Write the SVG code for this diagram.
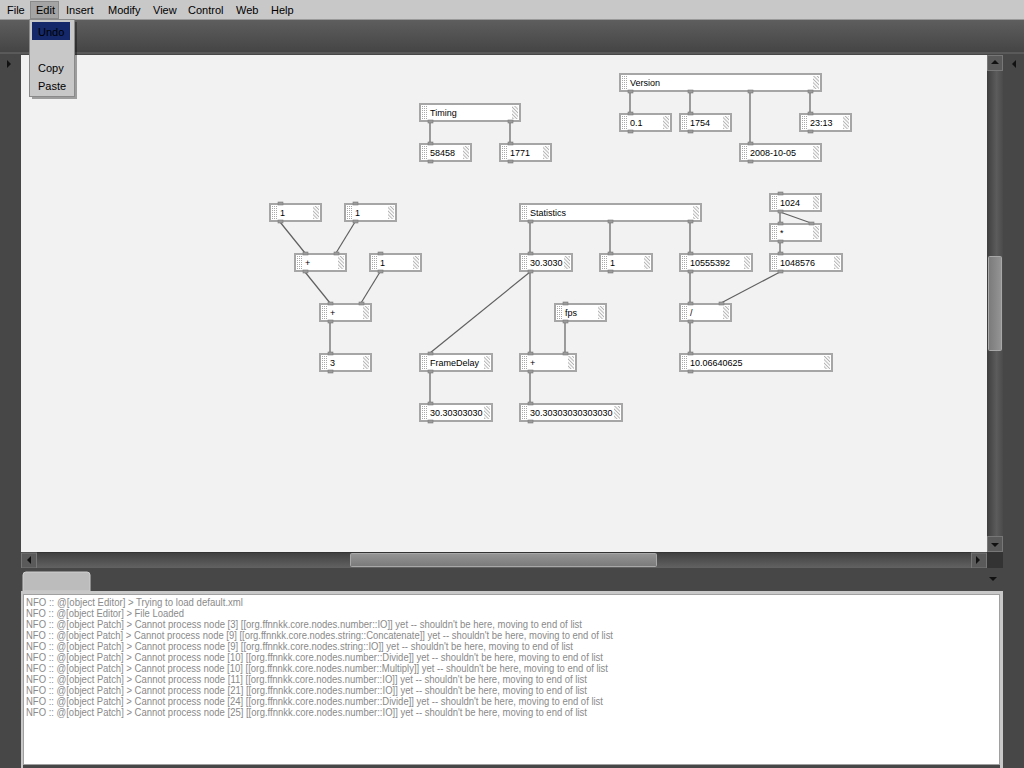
<svg xmlns="http://www.w3.org/2000/svg" width="1024" height="768" viewBox="0 0 1024 768">
<defs>
<pattern id="dots" width="2" height="2" patternUnits="userSpaceOnUse"><rect width="1" height="1" fill="#a8a8a8"/></pattern>
<pattern id="hatch" width="2.5" height="2.5" patternUnits="userSpaceOnUse" patternTransform="rotate(-45)"><rect width="1" height="2.5" fill="#b4b4b4"/></pattern>
<linearGradient id="tb" x1="0" y1="0" x2="0" y2="1"><stop offset="0" stop-color="#5e5e5e"/><stop offset="1" stop-color="#444"/></linearGradient>
<linearGradient id="vtrack" x1="0" y1="0" x2="1" y2="0"><stop offset="0" stop-color="#3e3e3e"/><stop offset="0.6" stop-color="#5c5c5c"/><stop offset="1" stop-color="#4a4a4a"/></linearGradient>
<linearGradient id="htrack" x1="0" y1="0" x2="0" y2="1"><stop offset="0" stop-color="#3e3e3e"/><stop offset="1" stop-color="#626262"/></linearGradient>
<linearGradient id="vthumb" x1="0" y1="0" x2="1" y2="0"><stop offset="0" stop-color="#7a7a7a"/><stop offset="1" stop-color="#959595"/></linearGradient>
<linearGradient id="hthumb" x1="0" y1="0" x2="0" y2="1"><stop offset="0" stop-color="#959595"/><stop offset="1" stop-color="#7a7a7a"/></linearGradient>
</defs>
<style>
.menu{font-family:"Liberation Sans",Arial,sans-serif;font-size:11px;fill:#000}
.box{fill:#fff;stroke:#a6a6a6;stroke-width:2}
.grip{fill:url(#dots)}
.hatch{fill:url(#hatch)}
.lbl{font-family:"Liberation Sans",Arial,sans-serif;font-size:9px;fill:#000}
.port{fill:#9a9a9a;stroke:#7a7a7a;stroke-width:0.6}
.wire{stroke:#606060;stroke-width:1.2;fill:none}
.log{font-family:"Liberation Sans",Arial,sans-serif;font-size:10px;fill:#8a8a8a}
.btn{fill:#5a5a5a;stroke:#777;stroke-width:1}
.tri{fill:#111}
</style>

<!-- window chrome -->
<rect x="0" y="0" width="1024" height="768" fill="#474747"/>
<rect x="0" y="20" width="1024" height="33" fill="url(#tb)"/>
<line x1="0" y1="53" x2="1024" y2="53" stroke="#6e6e6e" stroke-width="1"/>
<rect x="0" y="0" width="1024" height="20" fill="#c8c8c8"/>
<line x1="0" y1="19.5" x2="1024" y2="19.5" stroke="#9a9a9a"/>

<!-- canvas -->
<rect x="21" y="55" width="966" height="497" fill="#f2f2f2"/>
<polygon class="tri" points="7,60 11,64 7,68"/>
<polygon class="tri" points="1016,60 1012,64 1016,68"/>

<!-- vertical scrollbar -->
<rect x="987" y="55" width="16" height="497" fill="url(#vtrack)"/>
<rect class="btn" x="987.5" y="55.5" width="15" height="15"/>
<polygon class="tri" points="991,64 995,60 999,64"/>
<rect x="988.5" y="256.5" width="13" height="94" rx="1" fill="url(#vthumb)" stroke="#a8a8a8"/>
<rect class="btn" x="987.5" y="536.5" width="15" height="15"/>
<polygon class="tri" points="991,543 999,543 995,547"/>

<!-- horizontal scrollbar -->
<rect x="21" y="552" width="966" height="16" fill="url(#htrack)"/>
<line x1="21" y1="552.5" x2="1003" y2="552.5" stroke="#333"/>
<rect class="btn" x="21.5" y="553" width="15" height="15"/>
<polygon class="tri" points="31,556 27,560 31,564"/>
<rect x="350.5" y="553.5" width="306" height="13" rx="1" fill="url(#hthumb)" stroke="#a8a8a8"/>
<rect class="btn" x="971.5" y="553" width="15" height="15"/>
<polygon class="tri" points="976,556 980,560 976,564"/>
<rect x="987" y="552" width="16" height="16" fill="#333"/>

<!-- bottom panel -->
<rect x="21" y="568" width="982" height="23" fill="#474747"/>
<path d="M23,591 V575 Q23,572 26,572 H87 Q90,572 90,575 V591 Z" fill="#bcbcbc" stroke="#cfcfcf" stroke-width="1"/>
<polygon class="tri" points="989,577 997,577 993,581"/>
<rect x="21" y="591" width="982" height="3" fill="#c8c8c8"/>
<rect x="23.5" y="594.5" width="976" height="170" fill="#fff" stroke="#a0a0a0"/>
<rect x="21" y="594" width="2" height="174" fill="#c8c8c8"/>
<rect x="1000" y="594" width="3" height="174" fill="#c8c8c8"/>

<g id="log">
<text class="log" x="26" y="606" textLength="217" lengthAdjust="spacingAndGlyphs">NFO :: @[object Editor] &gt; Trying to load default.xml</text>
<text class="log" x="26" y="617" textLength="158" lengthAdjust="spacingAndGlyphs">NFO :: @[object Editor] &gt; File Loaded</text>
<text class="log" x="26" y="628" textLength="556" lengthAdjust="spacingAndGlyphs">NFO :: @[object Patch] &gt; Cannot process node [3] [[org.ffnnkk.core.nodes.number::IO]] yet -- shouldn't be here, moving to end of list</text>
<text class="log" x="26" y="639" textLength="587" lengthAdjust="spacingAndGlyphs">NFO :: @[object Patch] &gt; Cannot process node [9] [[org.ffnnkk.core.nodes.string::Concatenate]] yet -- shouldn't be here, moving to end of list</text>
<text class="log" x="26" y="650" textLength="547" lengthAdjust="spacingAndGlyphs">NFO :: @[object Patch] &gt; Cannot process node [9] [[org.ffnnkk.core.nodes.string::IO]] yet -- shouldn't be here, moving to end of list</text>
<text class="log" x="26" y="661" textLength="577" lengthAdjust="spacingAndGlyphs">NFO :: @[object Patch] &gt; Cannot process node [10] [[org.ffnnkk.core.nodes.number::Divide]] yet -- shouldn't be here, moving to end of list</text>
<text class="log" x="26" y="672" textLength="582" lengthAdjust="spacingAndGlyphs">NFO :: @[object Patch] &gt; Cannot process node [10] [[org.ffnnkk.core.nodes.number::Multiply]] yet -- shouldn't be here, moving to end of list</text>
<text class="log" x="26" y="683" textLength="561" lengthAdjust="spacingAndGlyphs">NFO :: @[object Patch] &gt; Cannot process node [11] [[org.ffnnkk.core.nodes.number::IO]] yet -- shouldn't be here, moving to end of list</text>
<text class="log" x="26" y="694" textLength="561" lengthAdjust="spacingAndGlyphs">NFO :: @[object Patch] &gt; Cannot process node [21] [[org.ffnnkk.core.nodes.number::IO]] yet -- shouldn't be here, moving to end of list</text>
<text class="log" x="26" y="705" textLength="577" lengthAdjust="spacingAndGlyphs">NFO :: @[object Patch] &gt; Cannot process node [24] [[org.ffnnkk.core.nodes.number::Divide]] yet -- shouldn't be here, moving to end of list</text>
<text class="log" x="26" y="716" textLength="561" lengthAdjust="spacingAndGlyphs">NFO :: @[object Patch] &gt; Cannot process node [25] [[org.ffnnkk.core.nodes.number::IO]] yet -- shouldn't be here, moving to end of list</text>
</g>

<!-- connectors -->
<g id="connectors" class="wire">
<line x1="430" y1="122" x2="430" y2="143"/>
<line x1="510" y1="122" x2="510" y2="143"/>
<line x1="630" y1="92" x2="630" y2="113"/>
<line x1="690" y1="92" x2="690" y2="113"/>
<line x1="750" y1="92" x2="750" y2="143"/>
<line x1="810" y1="92" x2="810" y2="113"/>
<line x1="280" y1="222" x2="305" y2="253"/>
<line x1="355" y1="222" x2="336" y2="253"/>
<line x1="305" y1="272" x2="330" y2="303"/>
<line x1="380" y1="272" x2="361" y2="303"/>
<line x1="330" y1="322" x2="330" y2="353"/>
<line x1="530" y1="222" x2="530" y2="253"/>
<line x1="610" y1="222" x2="610" y2="253"/>
<line x1="690" y1="222" x2="690" y2="253"/>
<line x1="530" y1="272" x2="430" y2="353"/>
<line x1="530" y1="272" x2="530" y2="353"/>
<line x1="565" y1="322" x2="565" y2="353"/>
<line x1="430" y1="372" x2="430" y2="403"/>
<line x1="530" y1="372" x2="530" y2="403"/>
<line x1="780" y1="212" x2="780" y2="223"/>
<line x1="780" y1="212" x2="811" y2="223"/>
<line x1="780" y1="242" x2="780" y2="253"/>
<line x1="690" y1="272" x2="690" y2="303"/>
<line x1="780" y1="272" x2="721" y2="303"/>
<line x1="690" y1="322" x2="690" y2="353"/>
</g>

<!-- nodes -->
<g id="node-timing" transform="translate(420,104)">
<rect class="box" width="100" height="17"/><rect class="grip" x="2" y="2" width="5" height="13"/><rect class="hatch" x="92" y="2" width="6" height="13"/>
<text class="lbl" x="10" y="12">Timing</text>
<rect class="port" x="8" y="16" width="5" height="3"/><rect class="port" x="88" y="16" width="5" height="3"/>
</g>
<g id="node-58458" transform="translate(420,144)">
<rect class="box" width="51" height="17"/><rect class="grip" x="2" y="2" width="5" height="13"/><rect class="hatch" x="43" y="2" width="6" height="13"/>
<text class="lbl" x="10" y="12">58458</text>
<rect class="port" x="8" y="-2" width="5" height="3"/><rect class="port" x="8" y="16" width="5" height="3"/>
</g>
<g id="node-1771" transform="translate(500,144)">
<rect class="box" width="51" height="17"/><rect class="grip" x="2" y="2" width="5" height="13"/><rect class="hatch" x="43" y="2" width="6" height="13"/>
<text class="lbl" x="10" y="12">1771</text>
<rect class="port" x="8" y="-2" width="5" height="3"/><rect class="port" x="8" y="16" width="5" height="3"/>
</g>
<g id="node-version" transform="translate(620,74)">
<rect class="box" width="201" height="17"/><rect class="grip" x="2" y="2" width="5" height="13"/><rect class="hatch" x="193" y="2" width="6" height="13"/>
<text class="lbl" x="10" y="12">Version</text>
<rect class="port" x="8" y="16" width="5" height="3"/><rect class="port" x="68" y="16" width="5" height="3"/><rect class="port" x="128" y="16" width="5" height="3"/><rect class="port" x="188" y="16" width="5" height="3"/>
</g>
<g id="node-v01" transform="translate(620,114)">
<rect class="box" width="51" height="17"/><rect class="grip" x="2" y="2" width="5" height="13"/><rect class="hatch" x="43" y="2" width="6" height="13"/>
<text class="lbl" x="10" y="12">0.1</text>
<rect class="port" x="8" y="-2" width="5" height="3"/><rect class="port" x="8" y="16" width="5" height="3"/>
</g>
<g id="node-v1754" transform="translate(680,114)">
<rect class="box" width="51" height="17"/><rect class="grip" x="2" y="2" width="5" height="13"/><rect class="hatch" x="43" y="2" width="6" height="13"/>
<text class="lbl" x="10" y="12">1754</text>
<rect class="port" x="8" y="-2" width="5" height="3"/><rect class="port" x="8" y="16" width="5" height="3"/>
</g>
<g id="node-v2313" transform="translate(800,114)">
<rect class="box" width="51" height="17"/><rect class="grip" x="2" y="2" width="5" height="13"/><rect class="hatch" x="43" y="2" width="6" height="13"/>
<text class="lbl" x="10" y="12">23:13</text>
<rect class="port" x="8" y="-2" width="5" height="3"/><rect class="port" x="8" y="16" width="5" height="3"/>
</g>
<g id="node-vdate" transform="translate(740,144)">
<rect class="box" width="81" height="17"/><rect class="grip" x="2" y="2" width="5" height="13"/><rect class="hatch" x="73" y="2" width="6" height="13"/>
<text class="lbl" x="10" y="12">2008-10-05</text>
<rect class="port" x="8" y="-2" width="5" height="3"/><rect class="port" x="8" y="16" width="5" height="3"/>
</g>

<g id="node-one-a" transform="translate(270,204)">
<rect class="box" width="51" height="17"/><rect class="grip" x="2" y="2" width="5" height="13"/><rect class="hatch" x="43" y="2" width="6" height="13"/>
<text class="lbl" x="10" y="12">1</text>
<rect class="port" x="8" y="-2" width="5" height="3"/><rect class="port" x="8" y="16" width="5" height="3"/>
</g>
<g id="node-one-b" transform="translate(345,204)">
<rect class="box" width="51" height="17"/><rect class="grip" x="2" y="2" width="5" height="13"/><rect class="hatch" x="43" y="2" width="6" height="13"/>
<text class="lbl" x="10" y="12">1</text>
<rect class="port" x="8" y="-2" width="5" height="3"/><rect class="port" x="8" y="16" width="5" height="3"/>
</g>
<g id="node-plus-a" transform="translate(295,254)">
<rect class="box" width="51" height="17"/><rect class="grip" x="2" y="2" width="5" height="13"/><rect class="hatch" x="43" y="2" width="6" height="13"/>
<text class="lbl" x="10" y="12">+</text>
<rect class="port" x="8" y="-2" width="5" height="3"/><rect class="port" x="39" y="-2" width="5" height="3"/><rect class="port" x="8" y="16" width="5" height="3"/>
</g>
<g id="node-one-c" transform="translate(370,254)">
<rect class="box" width="51" height="17"/><rect class="grip" x="2" y="2" width="5" height="13"/><rect class="hatch" x="43" y="2" width="6" height="13"/>
<text class="lbl" x="10" y="12">1</text>
<rect class="port" x="8" y="-2" width="5" height="3"/><rect class="port" x="8" y="16" width="5" height="3"/>
</g>
<g id="node-plus-b" transform="translate(320,304)">
<rect class="box" width="51" height="17"/><rect class="grip" x="2" y="2" width="5" height="13"/><rect class="hatch" x="43" y="2" width="6" height="13"/>
<text class="lbl" x="10" y="12">+</text>
<rect class="port" x="8" y="-2" width="5" height="3"/><rect class="port" x="39" y="-2" width="5" height="3"/><rect class="port" x="8" y="16" width="5" height="3"/>
</g>
<g id="node-three" transform="translate(320,354)">
<rect class="box" width="51" height="17"/><rect class="grip" x="2" y="2" width="5" height="13"/><rect class="hatch" x="43" y="2" width="6" height="13"/>
<text class="lbl" x="10" y="12">3</text>
<rect class="port" x="8" y="-2" width="5" height="3"/><rect class="port" x="8" y="16" width="5" height="3"/>
</g>

<g id="node-statistics" transform="translate(520,204)">
<rect class="box" width="181" height="17"/><rect class="grip" x="2" y="2" width="5" height="13"/><rect class="hatch" x="173" y="2" width="6" height="13"/>
<text class="lbl" x="10" y="12">Statistics</text>
<rect class="port" x="8" y="16" width="5" height="3"/><rect class="port" x="88" y="16" width="5" height="3"/><rect class="port" x="168" y="16" width="5" height="3"/>
</g>
<g id="node-fps-val" transform="translate(520,254)">
<rect class="box" width="52" height="17"/><rect class="grip" x="2" y="2" width="5" height="13"/><rect class="hatch" x="44" y="2" width="6" height="13"/>
<text class="lbl" x="10" y="12">30.3030</text>
<rect class="port" x="8" y="-2" width="5" height="3"/><rect class="port" x="8" y="16" width="5" height="3"/>
</g>
<g id="node-stat-1" transform="translate(600,254)">
<rect class="box" width="52" height="17"/><rect class="grip" x="2" y="2" width="5" height="13"/><rect class="hatch" x="44" y="2" width="6" height="13"/>
<text class="lbl" x="10" y="12">1</text>
<rect class="port" x="8" y="-2" width="5" height="3"/><rect class="port" x="8" y="16" width="5" height="3"/>
</g>
<g id="node-mem" transform="translate(680,254)">
<rect class="box" width="72" height="17"/><rect class="grip" x="2" y="2" width="5" height="13"/><rect class="hatch" x="64" y="2" width="6" height="13"/>
<text class="lbl" x="10" y="12">10555392</text>
<rect class="port" x="8" y="-2" width="5" height="3"/><rect class="port" x="8" y="16" width="5" height="3"/>
</g>
<g id="node-fps" transform="translate(555,304)">
<rect class="box" width="51" height="17"/><rect class="grip" x="2" y="2" width="5" height="13"/><rect class="hatch" x="43" y="2" width="6" height="13"/>
<text class="lbl" x="10" y="12">fps</text>
<rect class="port" x="8" y="-2" width="5" height="3"/><rect class="port" x="8" y="16" width="5" height="3"/>
</g>
<g id="node-framedelay" transform="translate(420,354)">
<rect class="box" width="72" height="17"/><rect class="grip" x="2" y="2" width="5" height="13"/><rect class="hatch" x="64" y="2" width="6" height="13"/>
<text class="lbl" x="10" y="12">FrameDelay</text>
<rect class="port" x="8" y="-2" width="5" height="3"/><rect class="port" x="8" y="16" width="5" height="3"/>
</g>
<g id="node-plus-c" transform="translate(520,354)">
<rect class="box" width="56" height="17"/><rect class="grip" x="2" y="2" width="5" height="13"/><rect class="hatch" x="48" y="2" width="6" height="13"/>
<text class="lbl" x="10" y="12">+</text>
<rect class="port" x="8" y="-2" width="5" height="3"/><rect class="port" x="43" y="-2" width="5" height="3"/><rect class="port" x="8" y="16" width="5" height="3"/>
</g>
<g id="node-fd-out" transform="translate(420,404)">
<rect class="box" width="72" height="17"/><rect class="grip" x="2" y="2" width="5" height="13"/><rect class="hatch" x="64" y="2" width="6" height="13"/>
<text class="lbl" x="10" y="12">30.30303030</text>
<rect class="port" x="8" y="-2" width="5" height="3"/><rect class="port" x="8" y="16" width="5" height="3"/>
</g>
<g id="node-plus-out" transform="translate(520,404)">
<rect class="box" width="102" height="17"/><rect class="grip" x="2" y="2" width="5" height="13"/><rect class="hatch" x="94" y="2" width="6" height="13"/>
<text class="lbl" x="10" y="12">30.30303030303030</text>
<rect class="port" x="8" y="-2" width="5" height="3"/><rect class="port" x="8" y="16" width="5" height="3"/>
</g>

<g id="node-1024" transform="translate(770,194)">
<rect class="box" width="51" height="17"/><rect class="grip" x="2" y="2" width="5" height="13"/><rect class="hatch" x="43" y="2" width="6" height="13"/>
<text class="lbl" x="10" y="12">1024</text>
<rect class="port" x="8" y="-2" width="5" height="3"/><rect class="port" x="8" y="16" width="5" height="3"/>
</g>
<g id="node-mult" transform="translate(770,224)">
<rect class="box" width="51" height="17"/><rect class="grip" x="2" y="2" width="5" height="13"/><rect class="hatch" x="43" y="2" width="6" height="13"/>
<text class="lbl" x="10" y="12">*</text>
<rect class="port" x="8" y="-2" width="5" height="3"/><rect class="port" x="39" y="-2" width="5" height="3"/><rect class="port" x="8" y="16" width="5" height="3"/>
</g>
<g id="node-1048576" transform="translate(770,254)">
<rect class="box" width="72" height="17"/><rect class="grip" x="2" y="2" width="5" height="13"/><rect class="hatch" x="64" y="2" width="6" height="13"/>
<text class="lbl" x="10" y="12">1048576</text>
<rect class="port" x="8" y="-2" width="5" height="3"/><rect class="port" x="8" y="16" width="5" height="3"/>
</g>
<g id="node-div" transform="translate(680,304)">
<rect class="box" width="51" height="17"/><rect class="grip" x="2" y="2" width="5" height="13"/><rect class="hatch" x="43" y="2" width="6" height="13"/>
<text class="lbl" x="10" y="12">/</text>
<rect class="port" x="8" y="-2" width="5" height="3"/><rect class="port" x="39" y="-2" width="5" height="3"/><rect class="port" x="8" y="16" width="5" height="3"/>
</g>
<g id="node-result" transform="translate(680,354)">
<rect class="box" width="152" height="17"/><rect class="grip" x="2" y="2" width="5" height="13"/><rect class="hatch" x="144" y="2" width="6" height="13"/>
<text class="lbl" x="10" y="12">10.06640625</text>
<rect class="port" x="8" y="-2" width="5" height="3"/><rect class="port" x="8" y="16" width="5" height="3"/>
</g>

<!-- menu bar -->
<g id="menubar">
<rect x="30.5" y="1.5" width="28" height="17" fill="#a4a4a4" stroke="#8a8a8a"/>
<text class="menu" x="7" y="14">File</text>
<text class="menu" x="36" y="14">Edit</text>
<text class="menu" x="66" y="14">Insert</text>
<text class="menu" x="108" y="14">Modify</text>
<text class="menu" x="153" y="14">View</text>
<text class="menu" x="188" y="14">Control</text>
<text class="menu" x="236" y="14">Web</text>
<text class="menu" x="271" y="14">Help</text>
</g>
<g id="edit-menu">
<rect x="32" y="22" width="45" height="77" fill="#000" opacity="0.35"/>
<rect x="29.5" y="19.5" width="45" height="77" fill="#c8c8c8" stroke="#8a8a8a"/>
<rect x="32" y="22" width="38" height="18" fill="#14286a"/>
<text class="menu" x="38" y="36">Undo</text>
<text class="menu" x="38" y="72">Copy</text>
<text class="menu" x="38" y="90">Paste</text>
</g>
</svg>
